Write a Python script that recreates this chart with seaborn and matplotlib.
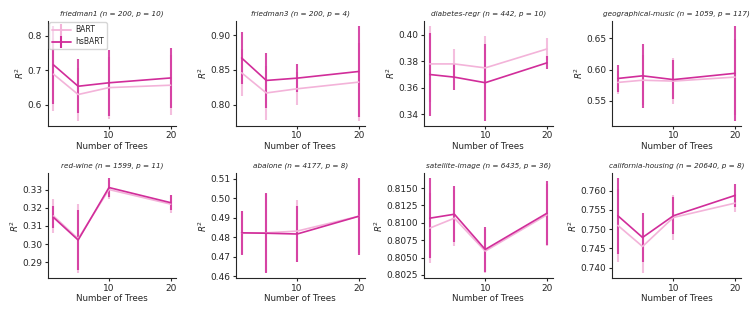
import numpy as np
import pandas as pd
import matplotlib
matplotlib.use("Agg")
import matplotlib.pyplot as plt
from matplotlib.lines import Line2D
from matplotlib.ticker import MultipleLocator, FormatStrFormatter
import seaborn as sns

# number of trees on the x axis
trees = [1, 5, 10, 20]

datasets = ["friedman1", "friedman3", "diabetes-regr", "geographical-music",
            "red-wine", "abalone", "satellite-image", "california-housing"]
n_obs = [200, 200, 442, 1059, 1599, 4177, 6435, 20640]
n_feat = [10, 4, 10, 117, 11, 8, 36, 8]

# y tick spacing / decimals used on each panel
ytick_step = [0.1, 0.05, 0.02, 0.05, 0.01, 0.01, 0.0025, 0.005]
ytick_fmt = ["%.1f", "%.2f", "%.2f", "%.2f", "%.2f", "%.2f", "%.4f", "%.3f"]

# mean R^2 (one row per dataset, one column per tree count)
bart_mean = [
    [0.688, 0.629, 0.649, 0.656],
    [0.8457, 0.8167, 0.8227, 0.8323],
    [0.378, 0.378, 0.375, 0.3893],
    [0.5795, 0.583, 0.5816, 0.588],
    [0.3155, 0.303, 0.330, 0.322],
    [0.4822, 0.4822, 0.4831, 0.4907],
    [0.80924, 0.81067, 0.80593, 0.81114],
    [0.75096, 0.74548, 0.75304, 0.75678],
]
bart_std = [
    [0.106, 0.077, 0.090, 0.087],
    [0.034, 0.039, 0.024, 0.056],
    [0.029, 0.011, 0.024, 0.008],
    [0.018, 0.040, 0.036, 0.060],
    [0.0095, 0.019, 0.005, 0.005],
    [0.011, 0.020, 0.016, 0.019],
    [0.0050, 0.0040, 0.0032, 0.0045],
    [0.0095, 0.0070, 0.0058, 0.0024],
]
hsbart_mean = [
    [0.715, 0.653, 0.663, 0.677],
    [0.867, 0.8347, 0.838, 0.8476],
    [0.370, 0.368, 0.3638, 0.3788],
    [0.5858, 0.590, 0.584, 0.594],
    [0.3147, 0.3023, 0.3311, 0.3228],
    [0.4822, 0.482, 0.4816, 0.4907],
    [0.81067, 0.81124, 0.80617, 0.81138],
    [0.75348, 0.74783, 0.75348, 0.75878],
]
hsbart_std = [
    [0.114, 0.078, 0.095, 0.088],
    [0.038, 0.039, 0.0197, 0.066],
    [0.0315, 0.0098, 0.029, 0.005],
    [0.021, 0.051, 0.031, 0.076],
    [0.006, 0.0165, 0.0053, 0.0043],
    [0.0112, 0.0206, 0.0145, 0.0197],
    [0.0058, 0.0040, 0.0033, 0.0046],
    [0.00987, 0.0065, 0.0048, 0.003],
]

colors = {"BART": "#f3b3d9", "hsBART": "#d12d9a"}

sns.set_theme(style="ticks")
plt.rcParams["font.family"] = ["DejaVu Sans"]

fig, axes = plt.subplots(2, 4, figsize=(7.56, 3.15), dpi=100)
fig.subplots_adjust(left=0.063, right=0.98, top=0.934, bottom=0.117,
                    wspace=0.46, hspace=0.45)

for i, ax in enumerate(axes.flat):
    df = pd.DataFrame({
        "trees": trees * 2,
        "r2": bart_mean[i] + hsbart_mean[i],
        "std": bart_std[i] + hsbart_std[i],
        "model": ["BART"] * 4 + ["hsBART"] * 4,
    })
    for model in ["BART", "hsBART"]:
        sub = df[df["model"] == model]
        ax.errorbar(sub["trees"], sub["r2"], yerr=sub["std"], fmt="none",
                    ecolor=colors[model], elinewidth=1.5, alpha=0.85, zorder=2)
        sns.lineplot(data=sub, x="trees", y="r2", color=colors[model],
                     linewidth=1.2, ax=ax, legend=False, zorder=3)

    ax.set_title(f"{datasets[i]} (n = {n_obs[i]}, p = {n_feat[i]})",
                 fontsize=5.2, style="italic", pad=4)
    ax.set_xticks([10, 20])
    ax.set_xlabel("Number of Trees", fontsize=6.3, labelpad=1)
    ax.set_ylabel("$R^2$", fontsize=6.3, labelpad=1)
    ax.tick_params(labelsize=6.5, length=2.5, width=0.8, pad=1.5)
    ax.yaxis.set_major_locator(MultipleLocator(ytick_step[i]))
    ax.yaxis.set_major_formatter(FormatStrFormatter(ytick_fmt[i]))
    for s in ax.spines.values():
        s.set_linewidth(0.8)
    sns.despine(ax=ax)

    if i == 0:
        leg_handles = [
            Line2D([], [], color=colors[m], linewidth=1.3, marker="|",
                   markersize=8, markeredgewidth=1.5)
            for m in ["BART", "hsBART"]
        ]
        ax.legend(leg_handles, ["BART", "hsBART"], loc="upper left",
                  fontsize=5.5, frameon=True, borderpad=0.4, handlelength=2.4,
                  labelspacing=0.4, borderaxespad=0.2, handletextpad=0.6)

fig.savefig("out.png", dpi=100)
